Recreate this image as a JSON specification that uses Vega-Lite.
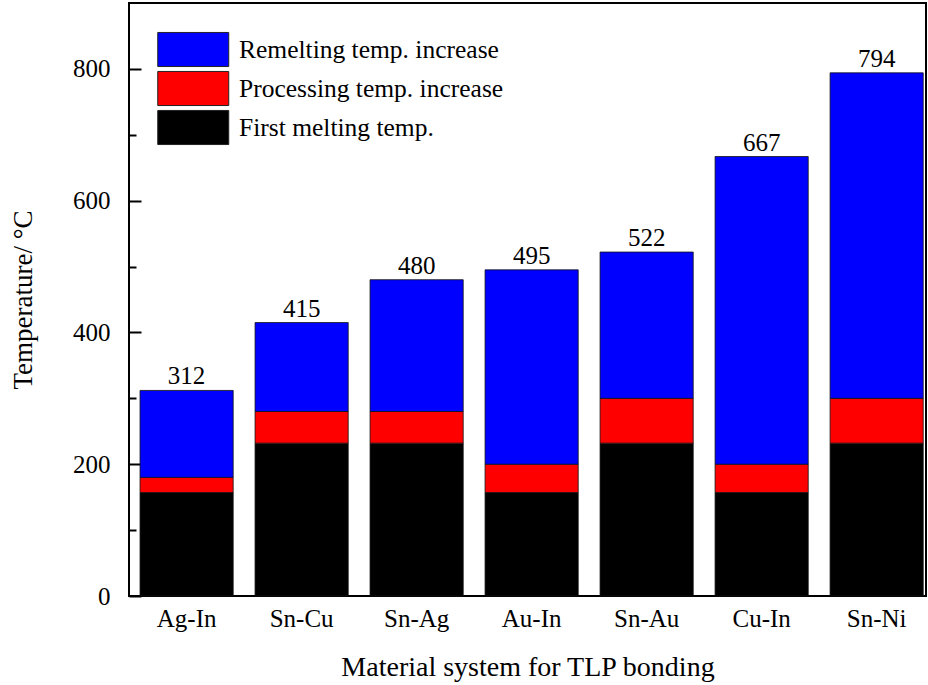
{
  "$schema": "https://vega.github.io/schema/vega-lite/v6.json",
  "width": 797,
  "height": 593,
  "autosize": {"type": "none"},
  "padding": {"left": 129, "top": 3, "right": 2, "bottom": 89},
  "background": "white",
  "config": {
    "font": "Liberation Serif",
    "view": {"stroke": "black", "strokeWidth": 2},
    "axis": {"labelFont": "Liberation Serif", "titleFont": "Liberation Serif", "labelColor": "black", "titleColor": "black", "titleFontWeight": "normal", "domainColor": "black", "tickColor": "black", "grid": false}
  },
  "data": {
    "values": [
      {"system": "Ag-In", "component": "First melting temp.", "ord": 1, "value": 157},
      {"system": "Ag-In", "component": "Processing temp. increase", "ord": 2, "value": 23},
      {"system": "Ag-In", "component": "Remelting temp. increase", "ord": 3, "value": 132},
      {"system": "Sn-Cu", "component": "First melting temp.", "ord": 1, "value": 232},
      {"system": "Sn-Cu", "component": "Processing temp. increase", "ord": 2, "value": 48},
      {"system": "Sn-Cu", "component": "Remelting temp. increase", "ord": 3, "value": 135},
      {"system": "Sn-Ag", "component": "First melting temp.", "ord": 1, "value": 232},
      {"system": "Sn-Ag", "component": "Processing temp. increase", "ord": 2, "value": 48},
      {"system": "Sn-Ag", "component": "Remelting temp. increase", "ord": 3, "value": 200},
      {"system": "Au-In", "component": "First melting temp.", "ord": 1, "value": 157},
      {"system": "Au-In", "component": "Processing temp. increase", "ord": 2, "value": 43},
      {"system": "Au-In", "component": "Remelting temp. increase", "ord": 3, "value": 295},
      {"system": "Sn-Au", "component": "First melting temp.", "ord": 1, "value": 232},
      {"system": "Sn-Au", "component": "Processing temp. increase", "ord": 2, "value": 68},
      {"system": "Sn-Au", "component": "Remelting temp. increase", "ord": 3, "value": 222},
      {"system": "Cu-In", "component": "First melting temp.", "ord": 1, "value": 157},
      {"system": "Cu-In", "component": "Processing temp. increase", "ord": 2, "value": 43},
      {"system": "Cu-In", "component": "Remelting temp. increase", "ord": 3, "value": 467},
      {"system": "Sn-Ni", "component": "First melting temp.", "ord": 1, "value": 232},
      {"system": "Sn-Ni", "component": "Processing temp. increase", "ord": 2, "value": 68},
      {"system": "Sn-Ni", "component": "Remelting temp. increase", "ord": 3, "value": 494}
    ]
  },
  "encoding": {
    "x": {
      "field": "system",
      "type": "nominal",
      "sort": null,
      "scale": {"paddingInner": 0.19, "paddingOuter": 0.06, "align": 0.8},
      "axis": {
        "title": "Material system for TLP bonding",
        "titleFontSize": 28,
        "titlePadding": 22,
        "labelFontSize": 25,
        "labelAngle": 0,
        "labelPadding": 10,
        "ticks": false,
        "domain": false
      }
    }
  },
  "layer": [
    {
      "mark": {"type": "bar", "stroke": "#111", "strokeWidth": 0.8},
      "encoding": {
        "y": {
          "field": "value",
          "type": "quantitative",
          "aggregate": "sum",
          "stack": "zero",
          "scale": {"domain": [0, 900], "nice": false},
          "axis": {
            "orient": "left",
            "title": "Temperature/ °C",
            "titleFontSize": 27,
            "titlePadding": 35,
            "labelFontSize": 25,
            "values": [0, 200, 400, 600, 800],
            "offset": -12,
            "tickSize": 12,
            "tickWidth": 2,
            "labelPadding": 19,
            "domain": false
          }
        },
        "color": {
          "field": "component",
          "type": "nominal",
          "scale": {
            "domain": ["Remelting temp. increase", "Processing temp. increase", "First melting temp."],
            "range": ["#0000ff", "#ff0000", "#000000"]
          },
          "legend": {
            "title": null,
            "orient": "none",
            "legendX": 28,
            "legendY": 28,
            "padding": 0,
            "symbolType": "M-1,-0.96H3V0.96H-1Z",
            "symbolSize": 1260,
            "symbolStrokeColor": "#222",
            "symbolStrokeWidth": 1,
            "symbolOpacity": 1,
            "rowPadding": 0,
            "labelFont": "Liberation Serif",
            "labelFontSize": 25.5,
            "labelColor": "black",
            "labelOffset": 45,
            "labelLimit": 500
          }
        },
        "order": {"field": "ord", "type": "quantitative"}
      }
    },
    {
      "mark": {"type": "text", "baseline": "bottom", "dy": -1, "fontSize": 25, "font": "Liberation Serif", "color": "black"},
      "encoding": {
        "y": {
          "field": "value",
          "type": "quantitative",
          "aggregate": "sum",
          "axis": {
            "orient": "left",
            "title": null,
            "values": [100, 300, 500, 700],
            "labels": false,
            "domain": false,
            "offset": -7,
            "tickSize": 7,
            "tickWidth": 2
          }
        },
        "text": {"field": "value", "type": "quantitative", "aggregate": "sum"}
      }
    }
  ],
  "resolve": {"axis": {"y": "independent"}}
}
